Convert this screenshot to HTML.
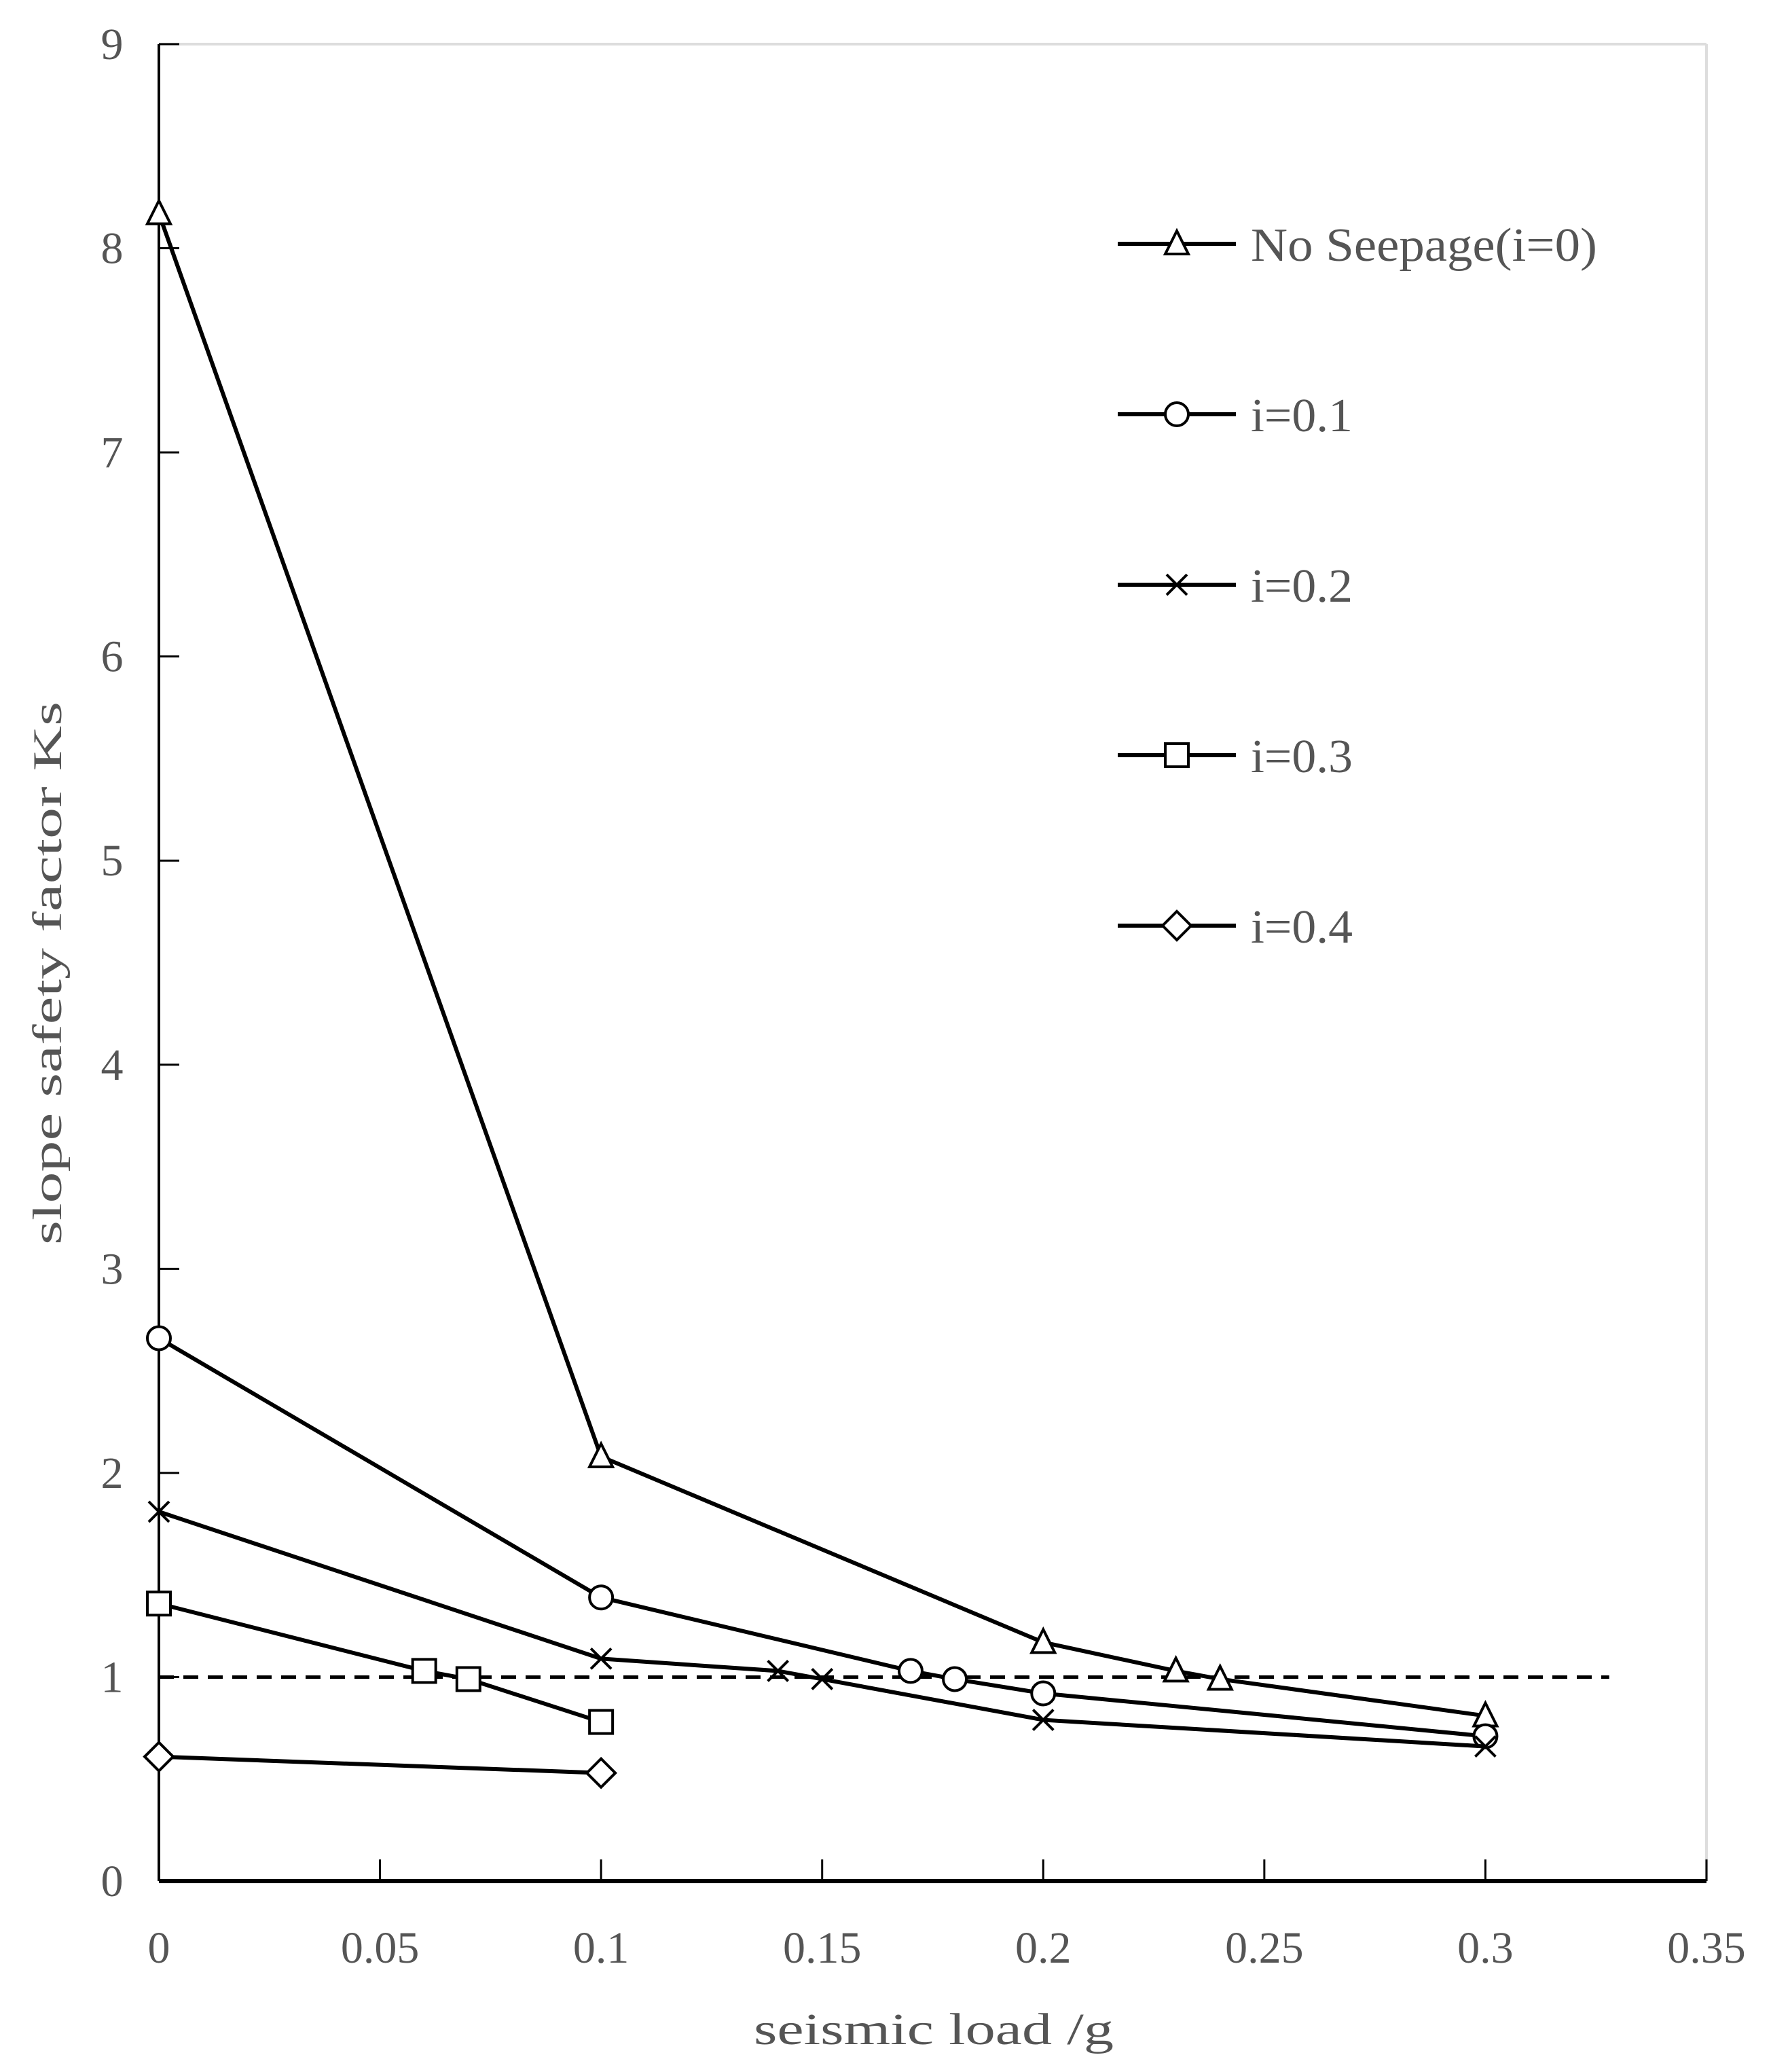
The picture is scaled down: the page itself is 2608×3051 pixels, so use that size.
<!DOCTYPE html>
<html><head><meta charset="utf-8"><style>
html,body{margin:0;padding:0;background:#fff}
svg{display:block}
text{font-family:"Liberation Serif",serif;fill:#555}
</style></head><body>
<svg id="chart" width="2608" height="3051" viewBox="0 0 2608 3051" xmlns="http://www.w3.org/2000/svg">
<g id="axes"></g>
<g id="plot"></g>
<g id="legend"></g>
<text x="0" y="0" font-size="60" text-anchor="middle" transform="translate(90,1433) rotate(-90)" textLength="800" lengthAdjust="spacingAndGlyphs">slope safety factor  Ks</text>
<text x="1375" y="3010" font-size="66" text-anchor="middle" textLength="530" lengthAdjust="spacingAndGlyphs">seismic load  /g</text>
</svg>
<script>
const xTicks=[0,0.05,0.1,0.15,0.2,0.25,0.3,0.35];
const xTickLabels=["0","0.05","0.1","0.15","0.2","0.25","0.3","0.35"];
const yTicks=[0,1,2,3,4,5,6,7,8,9];
const seriesNames=["No Seepage(i=0)","i=0.1","i=0.2","i=0.3","i=0.4"];
const seriesMarkers=["triangle","circle","cross","square","diamond"];
const x0=[0,0.1,0.2,0.23,0.24,0.3];
const y0=[8.17,2.08,1.17,1.03,0.99,0.81];
const x1=[0,0.1,0.17,0.18,0.2,0.3];
const y1=[2.66,1.39,1.03,0.99,0.92,0.71];
const x2=[0,0.1,0.14,0.15,0.2,0.3];
const y2=[1.81,1.09,1.03,0.99,0.79,0.66];
const x3=[0,0.06,0.07,0.1];
const y3=[1.36,1.03,0.99,0.78];
const x4=[0,0.1];
const y4=[0.61,0.53];
const refY=1, refXEnd=0.328;

const NS="http://www.w3.org/2000/svg";
const L=234,R=2513,T=65,B=2770;
const sx=v=>L+(v-0)/(0.35)*(R-L);
const sy=v=>B-(v/9)*(B-T);
function mk(tag,attrs,parent){const e=document.createElementNS(NS,tag);for(const k in attrs)e.setAttribute(k,attrs[k]);parent.appendChild(e);return e;}
const axes=document.getElementById('axes'),plot=document.getElementById('plot'),leg=document.getElementById('legend');

let e=mk('line',{x1:L,y1:T,x2:R,y2:T,stroke:'#ddd','stroke-width':4},axes);

e=mk('line',{x1:R,y1:T,x2:R,y2:B,stroke:'#ddd','stroke-width':4},axes);

e=mk('line',{x1:L,y1:B,x2:R,y2:B,stroke:'#000','stroke-width':6},axes);

e=mk('line',{x1:L,y1:T,x2:L,y2:B,stroke:'#000','stroke-width':4},axes);

xTicks.forEach((v,i)=>{
  const t=mk('line',{x1:sx(v),y1:B,x2:sx(v),y2:B-32,stroke:'#000','stroke-width':3},axes);
  
  const tx=mk('text',{x:sx(v),y:2890,'font-size':66,'text-anchor':'middle'},axes);
  
  tx.textContent=xTickLabels[i];
});
yTicks.forEach(v=>{
  const t=mk('line',{x1:L,y1:sy(v),x2:L+30,y2:sy(v),stroke:'#000','stroke-width':3},axes);
  
  const tx=mk('text',{x:165,y:sy(v)+22,'font-size':66,'text-anchor':'middle'},axes);
  
  tx.textContent=String(v);
});
e=mk('line',{x1:sx(0),y1:sy(refY),x2:sx(refXEnd),y2:sy(refY),stroke:'#000','stroke-width':5,'stroke-dasharray':'22,14'},plot);


function marker(type,cx,cy,parent){
  const s=17,st={fill:'#fff',stroke:'#000','stroke-width':4};
  let m;
  if(type==='triangle')m=mk('polygon',Object.assign({points:`${cx},${cy-s-2} ${cx-s},${cy+s-2} ${cx+s},${cy+s-2}`},st),parent);
  else if(type==='circle')m=mk('ellipse',Object.assign({cx:cx,cy:cy,rx:s,ry:s},st),parent);
  else if(type==='square')m=mk('rect',Object.assign({x:cx-s,y:cy-s,width:2*s,height:2*s},st),parent);
  else if(type==='diamond')m=mk('polygon',Object.assign({points:`${cx},${cy-s-4} ${cx+s+4},${cy} ${cx},${cy+s+4} ${cx-s-4},${cy}`},st),parent);
  else m=mk('path',{d:`M${cx-15},${cy-15}L${cx+15},${cy+15}M${cx-15},${cy+15}L${cx+15},${cy-15}`,stroke:'#000','stroke-width':4,fill:'none'},parent);
  return m;
}
const XS=[x0,x1,x2,x3,x4],YS=[y0,y1,y2,y3,y4];
XS.forEach((xs,si)=>{
  const g=mk('g',{},plot);
  
  const pts=xs.map((x,i)=>sx(x)+','+sy(YS[si][i])).join(' ');
  const pl=mk('polyline',{points:pts,fill:'none',stroke:'#000','stroke-width':6},g);
  
  xs.forEach((x,i)=>{
    const m=marker(seriesMarkers[si],sx(x),sy(YS[si][i]),g);
    
  });
  const ly=359+si*251;
  const eg=mk('g',{},leg);
  
  const ll=mk('line',{x1:1646,y1:ly,x2:1820,y2:ly,stroke:'#000','stroke-width':6},eg);
  
  const lm=marker(seriesMarkers[si],1733,ly,eg);
  
  const lt=mk('text',{x:1842,y:ly+25,'font-size':70},eg);
  
  if(si===0){lt.setAttribute('textLength',510);lt.setAttribute('lengthAdjust','spacingAndGlyphs');}
  else{lt.setAttribute('textLength',150);lt.setAttribute('lengthAdjust','spacingAndGlyphs');}
  lt.textContent=seriesNames[si];
});
</script>
</body></html>
